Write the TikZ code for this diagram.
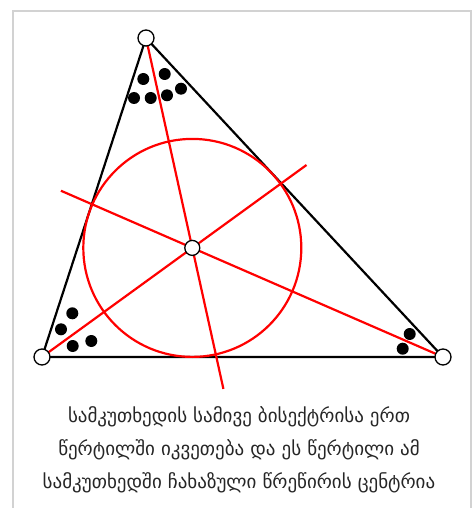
\documentclass[tikz,border=0pt]{standalone}
\usepackage{fontspec}
\setmainfont{DejaVu Sans}
\usetikzlibrary{calc}
\definecolor{framegray}{RGB}{210,210,210}
\tikzset{
  side/.style={draw=black,line width=2.2pt},
  bis/.style={draw=red,line width=2.2pt},
  vtx/.style={circle,draw=black,fill=white,line width=1.3pt,minimum size=16pt,inner sep=0pt},
  dot/.style={circle,fill=black,minimum size=12pt,inner sep=0pt},
  caption/.style={align=center,font=\fontsize{19}{33}\selectfont,text=black!85}
}
\begin{document}
\begin{tikzpicture}[x=1pt,y=-1pt]
\useasboundingbox (0,0) rectangle (472,508);
\draw[framegray,line width=1.5pt] (13,520) -- (13,11) -- (471,11) -- (471,520);
\coordinate (A) at (146,38);
\coordinate (B) at (42,357);
\coordinate (C) at (443,357);
\coordinate (I) at (192.3,247.9);
\coordinate (EA) at ($(A)!1.672!(I)$);
\coordinate (EB) at ($(B)!1.76!(I)$);
\coordinate (EC) at ($(C)!1.524!(I)$);
\draw[side] (A) -- (B) -- (C) -- cycle;
\draw[bis] (I) circle[radius=109];
\draw[bis] (A) -- (EA);
\draw[bis] (B) -- (EB);
\draw[bis] (C) -- (EC);
\node[vtx] (nA) at (A) {};
\node[vtx] (nB) at (B) {};
\node[vtx] (nC) at (C) {};
\node[vtx,minimum size=15pt] (nI) at (I) {};
\foreach \p [count=\i] in {(143.3,79),(164.7,74),(134,98),(150.7,98),(167,95.3),(181,88.7),
  (72.3,313.3),(61,329.3),(72.7,346),(91.3,341),(409.7,334),(402.7,348.7)}
  \node[dot] (d\i) at \p {};
\node[caption] (cap) at (239,450) {სამკუთხედის სამივე ბისექტრისა ერთ\\წერტილში იკვეთება და ეს წერტილი ამ\\სამკუთხედში ჩახაზული წრეწირის ცენტრია};
\end{tikzpicture}
\end{document}
